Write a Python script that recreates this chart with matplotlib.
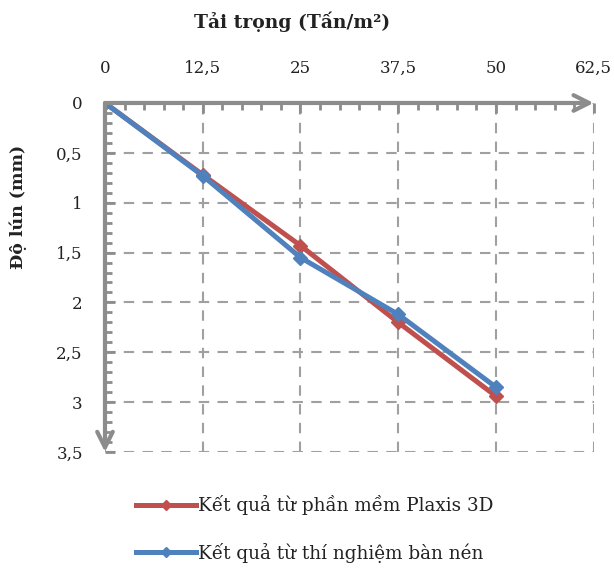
import matplotlib
matplotlib.use("Agg")
import matplotlib.pyplot as plt
from matplotlib.ticker import MultipleLocator, FuncFormatter

plt.rcParams["font.family"] = ["DejaVu Serif"]

# data
load = [0, 12.5, 25, 37.5, 50]
settle_plaxis = [0, 0.72, 1.43, 2.20, 2.94]
settle_test = [0, 0.73, 1.55, 2.12, 2.85]
label_plaxis = "Kết quả từ phần mềm Plaxis 3D"
label_test = "Kết quả từ thí nghiệm bàn nén"

RED = "#C0504D"
BLUE = "#4F81BD"
GRAY = "#8C8C8C"

fig = plt.figure(figsize=(6.14, 5.68), dpi=100)
ax = fig.add_axes([0.171, 0.2042, 0.796, 0.6145])

ax.plot(load, settle_plaxis, color=RED, lw=3.6, marker="D", ms=7, label=label_plaxis, zorder=3)
ax.plot(load, settle_test, color=BLUE, lw=3.6, marker="D", ms=7, label=label_test, zorder=4)

ax.set_xlim(0, 62.5)
ax.set_ylim(3.5, 0)
ax.xaxis.set_major_locator(MultipleLocator(12.5))
ax.xaxis.set_minor_locator(MultipleLocator(2.5))
ax.yaxis.set_major_locator(MultipleLocator(0.5))
ax.yaxis.set_minor_locator(MultipleLocator(0.1))

fmt = FuncFormatter(lambda v, p: ("%g" % v).replace(".", ","))
ax.xaxis.set_major_formatter(fmt)
ax.yaxis.set_major_formatter(fmt)

ax.xaxis.tick_top()
ax.tick_params(axis="both", which="both", direction="in", color=GRAY, width=2,
               labelsize=12, labelcolor="#222222")
ax.tick_params(axis="both", which="major", length=7)
ax.tick_params(axis="both", which="minor", length=5)
ax.tick_params(axis="x", which="major", pad=19)
ax.tick_params(axis="y", which="major", pad=16)
ax.tick_params(right=False, bottom=False, which="both")

ax.grid(True, which="major", color="#A0A0A0", lw=1.5, ls=(0, (5, 4)))
for s in ax.spines.values():
    s.set_visible(False)

# axis lines with arrow heads
ax.annotate("", xy=(1.0, 1.0), xytext=(0, 1.0), xycoords="axes fraction",
            arrowprops=dict(arrowstyle="->", color=GRAY, lw=3, mutation_scale=28,
                            shrinkA=0, shrinkB=0), zorder=5)
ax.annotate("", xy=(0, 0), xytext=(0, 1.0), xycoords="axes fraction",
            arrowprops=dict(arrowstyle="->", color=GRAY, lw=3, mutation_scale=28,
                            shrinkA=0, shrinkB=0), zorder=5)

fig.text(0.475, 0.961, "Tải trọng (Tấn/m²)", ha="center", va="center",
         fontsize=13.5, fontweight="bold", color="#222222")
fig.text(0.03, 0.635, "Độ lún (mm)", ha="center", va="center", rotation=90,
         fontsize=12.5, fontweight="bold", color="#222222")

fig.legend(loc="upper left", bbox_to_anchor=(0.194, 0.157), frameon=False,
           fontsize=13.2, handlelength=3.3, handletextpad=0.12, labelspacing=1.5,
           markerscale=0.7, labelcolor="#222222")

fig.savefig("out.png", dpi=100)
